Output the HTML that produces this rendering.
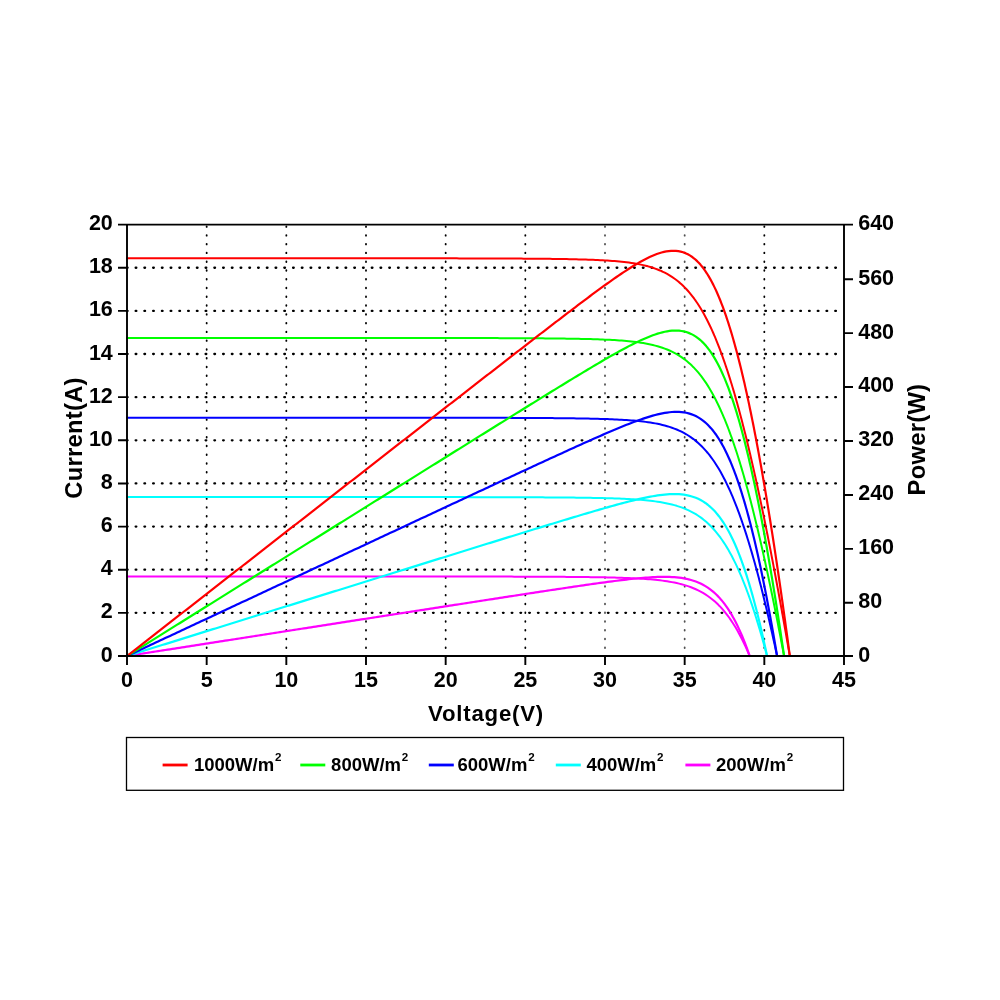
<!DOCTYPE html>
<html><head><meta charset="utf-8"><style>
html,body{margin:0;padding:0;background:#fff;}
body{width:1000px;height:1000px;overflow:hidden;}
svg{display:block;will-change:transform;}
text{font-family:"Liberation Sans",sans-serif;font-weight:bold;fill:#000;}
.gv{stroke-width:1.8;stroke-dasharray:0.6 8.176;stroke-linecap:round;}
.gh{stroke:#000;stroke-width:2.3;stroke-dasharray:0.7 8.045;stroke-linecap:round;}
.c path{fill:none;stroke-linejoin:round;stroke-linecap:round;}
</style></head><body>
<svg width="1000" height="1000" viewBox="0 0 1000 1000">
<rect width="1000" height="1000" fill="#fff"/>
<g><line x1="206.67" y1="656.9" x2="206.67" y2="224.6" class="gv" stroke="#000"/>
<line x1="286.33" y1="656.9" x2="286.33" y2="224.6" class="gv" stroke="#000"/>
<line x1="366" y1="656.9" x2="366" y2="224.6" class="gv" stroke="#000"/>
<line x1="445.67" y1="656.9" x2="445.67" y2="224.6" class="gv" stroke="#000"/>
<line x1="525.33" y1="656.9" x2="525.33" y2="224.6" class="gv" stroke="#000"/>
<line x1="605" y1="656.9" x2="605" y2="224.6" class="gv" stroke="#505050"/>
<line x1="684.67" y1="656.9" x2="684.67" y2="224.6" class="gv" stroke="#505050"/>
<line x1="764.33" y1="656.9" x2="764.33" y2="224.6" class="gv" stroke="#000"/>
<line x1="126.9" y1="612.86" x2="838" y2="612.86" class="gh"/>
<line x1="126.9" y1="569.72" x2="838" y2="569.72" class="gh"/>
<line x1="126.9" y1="526.58" x2="838" y2="526.58" class="gh"/>
<line x1="126.9" y1="483.44" x2="838" y2="483.44" class="gh"/>
<line x1="126.9" y1="440.3" x2="838" y2="440.3" class="gh"/>
<line x1="126.9" y1="397.16" x2="838" y2="397.16" class="gh"/>
<line x1="126.9" y1="354.02" x2="838" y2="354.02" class="gh"/>
<line x1="126.9" y1="310.88" x2="838" y2="310.88" class="gh"/>
<line x1="126.9" y1="267.74" x2="838" y2="267.74" class="gh"/></g>
<g class="c"><path d="M127 576.45 L129.39 576.45 L131.78 576.45 L134.17 576.45 L136.56 576.45 L138.95 576.45 L141.34 576.45 L143.73 576.45 L146.12 576.45 L148.51 576.45 L150.9 576.45 L153.29 576.45 L155.68 576.45 L158.07 576.45 L160.46 576.45 L162.85 576.45 L165.24 576.45 L167.63 576.45 L170.02 576.45 L172.41 576.45 L174.8 576.45 L177.19 576.45 L179.58 576.45 L181.97 576.45 L184.36 576.45 L186.75 576.45 L189.14 576.45 L191.53 576.45 L193.92 576.45 L196.31 576.45 L198.7 576.45 L201.09 576.45 L203.48 576.45 L205.87 576.45 L208.26 576.45 L210.65 576.45 L213.04 576.45 L215.43 576.45 L217.82 576.45 L220.21 576.45 L222.6 576.45 L224.99 576.45 L227.38 576.45 L229.77 576.45 L232.16 576.45 L234.55 576.45 L236.94 576.45 L239.33 576.45 L241.72 576.45 L244.11 576.45 L246.5 576.45 L248.89 576.45 L251.28 576.45 L253.67 576.45 L256.06 576.45 L258.45 576.45 L260.84 576.45 L263.23 576.45 L265.62 576.45 L268.01 576.45 L270.4 576.45 L272.79 576.45 L275.18 576.45 L277.57 576.45 L279.96 576.45 L282.35 576.45 L284.74 576.45 L287.13 576.45 L289.52 576.45 L291.91 576.45 L294.3 576.46 L296.69 576.46 L299.08 576.46 L301.47 576.46 L303.86 576.46 L306.25 576.46 L308.64 576.46 L311.03 576.46 L313.42 576.46 L315.81 576.46 L318.2 576.46 L320.59 576.46 L322.98 576.46 L325.37 576.46 L327.76 576.46 L330.15 576.46 L332.54 576.46 L334.93 576.46 L337.32 576.46 L339.71 576.46 L342.1 576.46 L344.49 576.46 L346.88 576.46 L349.27 576.46 L351.66 576.46 L354.05 576.46 L356.44 576.46 L358.83 576.46 L361.22 576.47 L363.61 576.47 L366 576.47 L368.39 576.47 L370.78 576.47 L373.17 576.47 L375.56 576.47 L377.95 576.47 L380.34 576.47 L382.73 576.47 L385.12 576.47 L387.51 576.47 L389.9 576.47 L392.29 576.48 L394.68 576.48 L397.07 576.48 L399.46 576.48 L401.85 576.48 L404.24 576.48 L406.63 576.48 L409.02 576.48 L411.41 576.48 L413.8 576.49 L416.19 576.49 L418.58 576.49 L420.97 576.49 L423.36 576.49 L425.75 576.49 L428.14 576.49 L430.53 576.5 L432.92 576.5 L435.31 576.5 L437.7 576.5 L440.09 576.5 L442.48 576.51 L444.87 576.51 L447.26 576.51 L449.65 576.51 L452.04 576.52 L454.43 576.52 L456.82 576.52 L459.21 576.52 L461.6 576.53 L463.99 576.53 L466.38 576.53 L468.77 576.54 L471.16 576.54 L473.55 576.54 L475.94 576.55 L478.33 576.55 L480.72 576.55 L483.11 576.56 L485.5 576.56 L487.89 576.57 L490.28 576.57 L492.67 576.57 L495.06 576.58 L497.45 576.58 L499.84 576.59 L502.23 576.6 L504.62 576.6 L507.01 576.61 L509.4 576.61 L511.79 576.62 L514.18 576.63 L516.57 576.63 L518.96 576.64 L521.35 576.65 L523.74 576.66 L526.13 576.67 L528.52 576.67 L530.91 576.68 L533.3 576.69 L535.69 576.7 L538.08 576.71 L540.47 576.72 L542.86 576.74 L545.25 576.75 L547.64 576.76 L550.03 576.77 L552.42 576.79 L554.81 576.8 L557.2 576.82 L559.59 576.83 L561.98 576.85 L564.37 576.87 L566.76 576.88 L569.15 576.9 L571.54 576.92 L573.93 576.94 L576.32 576.97 L578.71 576.99 L581.1 577.02 L583.49 577.04 L585.88 577.07 L588.27 577.1 L590.66 577.13 L593.05 577.17 L595.44 577.2 L597.83 577.24 L600.22 577.28 L602.61 577.33 L605 577.37 L607.39 577.42 L609.78 577.47 L612.17 577.53 L614.56 577.59 L616.95 577.66 L619.34 577.73 L621.73 577.8 L624.12 577.88 L626.51 577.97 L628.9 578.07 L631.29 578.17 L633.68 578.28 L636.07 578.4 L638.46 578.53 L640.85 578.67 L643.24 578.82 L645.63 578.98 L648.02 579.16 L650.41 579.35 L652.8 579.57 L655.19 579.8 L657.58 580.05 L659.97 580.32 L662.36 580.62 L664.75 580.94 L667.14 581.3 L669.53 581.69 L671.92 582.11 L674.31 582.57 L676.7 583.08 L679.09 583.63 L681.48 584.24 L683.87 584.9 L686.26 585.62 L688.65 586.41 L691.04 587.27 L693.43 588.22 L695.82 589.24 L698.21 590.37 L700.6 591.59 L702.99 592.93 L705.38 594.39 L707.77 595.97 L710.16 597.7 L711.75 598.93 L713.35 600.23 L714.94 601.61 L716.53 603.05 L718.13 604.58 L719.72 606.19 L721.31 607.89 L722.91 609.68 L724.5 611.56 L726.09 613.53 L727.69 615.61 L729.28 617.78 L730.87 620.06 L732.47 622.46 L734.06 624.96 L735.65 627.58 L737.25 630.32 L738.84 633.17 L740.43 636.16 L742.03 639.26 L743.62 642.5 L745.21 645.86 L746.81 649.36 L748.4 653 L749.2 654.86 L749.67 656" stroke="#ff00ff" stroke-width="2.0"/>
<path d="M127 656 L129.39 655.63 L131.78 655.25 L134.17 654.88 L136.56 654.51 L138.95 654.14 L141.34 653.76 L143.73 653.39 L146.12 653.02 L148.51 652.64 L150.9 652.27 L153.29 651.9 L155.68 651.53 L158.07 651.15 L160.46 650.78 L162.85 650.41 L165.24 650.03 L167.63 649.66 L170.02 649.29 L172.41 648.92 L174.8 648.54 L177.19 648.17 L179.58 647.8 L181.97 647.42 L184.36 647.05 L186.75 646.68 L189.14 646.3 L191.53 645.93 L193.92 645.56 L196.31 645.19 L198.7 644.81 L201.09 644.44 L203.48 644.07 L205.87 643.69 L208.26 643.32 L210.65 642.95 L213.04 642.58 L215.43 642.2 L217.82 641.83 L220.21 641.46 L222.6 641.08 L224.99 640.71 L227.38 640.34 L229.77 639.97 L232.16 639.59 L234.55 639.22 L236.94 638.85 L239.33 638.47 L241.72 638.1 L244.11 637.73 L246.5 637.36 L248.89 636.98 L251.28 636.61 L253.67 636.24 L256.06 635.86 L258.45 635.49 L260.84 635.12 L263.23 634.75 L265.62 634.37 L268.01 634 L270.4 633.63 L272.79 633.25 L275.18 632.88 L277.57 632.51 L279.96 632.14 L282.35 631.76 L284.74 631.39 L287.13 631.02 L289.52 630.64 L291.91 630.27 L294.3 629.9 L296.69 629.53 L299.08 629.15 L301.47 628.78 L303.86 628.41 L306.25 628.04 L308.64 627.66 L311.03 627.29 L313.42 626.92 L315.81 626.54 L318.2 626.17 L320.59 625.8 L322.98 625.43 L325.37 625.05 L327.76 624.68 L330.15 624.31 L332.54 623.94 L334.93 623.56 L337.32 623.19 L339.71 622.82 L342.1 622.44 L344.49 622.07 L346.88 621.7 L349.27 621.33 L351.66 620.95 L354.05 620.58 L356.44 620.21 L358.83 619.84 L361.22 619.46 L363.61 619.09 L366 618.72 L368.39 618.35 L370.78 617.97 L373.17 617.6 L375.56 617.23 L377.95 616.86 L380.34 616.48 L382.73 616.11 L385.12 615.74 L387.51 615.37 L389.9 614.99 L392.29 614.62 L394.68 614.25 L397.07 613.88 L399.46 613.51 L401.85 613.13 L404.24 612.76 L406.63 612.39 L409.02 612.02 L411.41 611.65 L413.8 611.27 L416.19 610.9 L418.58 610.53 L420.97 610.16 L423.36 609.79 L425.75 609.41 L428.14 609.04 L430.53 608.67 L432.92 608.3 L435.31 607.93 L437.7 607.56 L440.09 607.18 L442.48 606.81 L444.87 606.44 L447.26 606.07 L449.65 605.7 L452.04 605.33 L454.43 604.96 L456.82 604.59 L459.21 604.22 L461.6 603.85 L463.99 603.47 L466.38 603.1 L468.77 602.73 L471.16 602.36 L473.55 601.99 L475.94 601.62 L478.33 601.25 L480.72 600.88 L483.11 600.51 L485.5 600.14 L487.89 599.78 L490.28 599.41 L492.67 599.04 L495.06 598.67 L497.45 598.3 L499.84 597.93 L502.23 597.56 L504.62 597.2 L507.01 596.83 L509.4 596.46 L511.79 596.09 L514.18 595.73 L516.57 595.36 L518.96 594.99 L521.35 594.63 L523.74 594.26 L526.13 593.9 L528.52 593.53 L530.91 593.17 L533.3 592.8 L535.69 592.44 L538.08 592.07 L540.47 591.71 L542.86 591.35 L545.25 590.99 L547.64 590.63 L550.03 590.27 L552.42 589.91 L554.81 589.55 L557.2 589.19 L559.59 588.83 L561.98 588.47 L564.37 588.12 L566.76 587.76 L569.15 587.41 L571.54 587.06 L573.93 586.7 L576.32 586.35 L578.71 586 L581.1 585.66 L583.49 585.31 L585.88 584.96 L588.27 584.62 L590.66 584.28 L593.05 583.94 L595.44 583.61 L597.83 583.27 L600.22 582.94 L602.61 582.61 L605 582.29 L607.39 581.96 L609.78 581.65 L612.17 581.33 L614.56 581.02 L616.95 580.72 L619.34 580.42 L621.73 580.12 L624.12 579.84 L626.51 579.56 L628.9 579.28 L631.29 579.02 L633.68 578.76 L636.07 578.52 L638.46 578.28 L640.85 578.06 L643.24 577.85 L645.63 577.66 L648.02 577.48 L650.41 577.32 L652.8 577.18 L655.19 577.06 L657.58 576.96 L659.97 576.89 L662.36 576.85 L664.75 576.84 L667.14 576.86 L669.53 576.93 L671.92 577.03 L674.31 577.18 L676.7 577.38 L679.09 577.64 L681.48 577.96 L683.87 578.34 L686.26 578.8 L688.65 579.34 L691.04 579.97 L693.43 580.7 L695.82 581.53 L698.21 582.47 L700.6 583.54 L702.99 584.75 L705.38 586.11 L707.77 587.63 L710.16 589.32 L711.75 590.55 L713.35 591.87 L714.94 593.28 L716.53 594.78 L718.13 596.39 L719.72 598.1 L721.31 599.92 L722.91 601.86 L724.5 603.92 L726.09 606.1 L727.69 608.41 L729.28 610.85 L730.87 613.44 L732.47 616.17 L734.06 619.04 L735.65 622.07 L737.25 625.26 L738.84 628.61 L740.43 632.12 L742.03 635.81 L742.82 637.72 L743.62 639.67 L744.42 641.67 L745.21 643.71 L746.01 645.8 L746.81 647.93 L747.6 650.11 L748.4 652.34 L749.2 654.61 L749.67 656" stroke="#ff00ff" stroke-width="2.2"/>
<path d="M127 497.03 L129.39 497.03 L131.78 497.03 L134.17 497.03 L136.56 497.03 L138.95 497.03 L141.34 497.03 L143.73 497.03 L146.12 497.03 L148.51 497.03 L150.9 497.03 L153.29 497.03 L155.68 497.03 L158.07 497.03 L160.46 497.03 L162.85 497.03 L165.24 497.03 L167.63 497.03 L170.02 497.03 L172.41 497.03 L174.8 497.03 L177.19 497.03 L179.58 497.03 L181.97 497.03 L184.36 497.03 L186.75 497.03 L189.14 497.03 L191.53 497.03 L193.92 497.03 L196.31 497.03 L198.7 497.03 L201.09 497.03 L203.48 497.03 L205.87 497.03 L208.26 497.03 L210.65 497.03 L213.04 497.03 L215.43 497.03 L217.82 497.03 L220.21 497.03 L222.6 497.03 L224.99 497.03 L227.38 497.03 L229.77 497.03 L232.16 497.03 L234.55 497.03 L236.94 497.03 L239.33 497.03 L241.72 497.03 L244.11 497.03 L246.5 497.03 L248.89 497.03 L251.28 497.03 L253.67 497.03 L256.06 497.03 L258.45 497.03 L260.84 497.03 L263.23 497.03 L265.62 497.03 L268.01 497.03 L270.4 497.03 L272.79 497.03 L275.18 497.03 L277.57 497.03 L279.96 497.03 L282.35 497.03 L284.74 497.03 L287.13 497.03 L289.52 497.03 L291.91 497.03 L294.3 497.04 L296.69 497.04 L299.08 497.04 L301.47 497.04 L303.86 497.04 L306.25 497.04 L308.64 497.04 L311.03 497.04 L313.42 497.04 L315.81 497.04 L318.2 497.04 L320.59 497.04 L322.98 497.04 L325.37 497.04 L327.76 497.04 L330.15 497.04 L332.54 497.04 L334.93 497.04 L337.32 497.04 L339.71 497.04 L342.1 497.04 L344.49 497.04 L346.88 497.04 L349.27 497.04 L351.66 497.04 L354.05 497.04 L356.44 497.05 L358.83 497.05 L361.22 497.05 L363.61 497.05 L366 497.05 L368.39 497.05 L370.78 497.05 L373.17 497.05 L375.56 497.05 L377.95 497.05 L380.34 497.05 L382.73 497.05 L385.12 497.06 L387.51 497.06 L389.9 497.06 L392.29 497.06 L394.68 497.06 L397.07 497.06 L399.46 497.06 L401.85 497.06 L404.24 497.06 L406.63 497.07 L409.02 497.07 L411.41 497.07 L413.8 497.07 L416.19 497.07 L418.58 497.07 L420.97 497.08 L423.36 497.08 L425.75 497.08 L428.14 497.08 L430.53 497.08 L432.92 497.08 L435.31 497.09 L437.7 497.09 L440.09 497.09 L442.48 497.09 L444.87 497.1 L447.26 497.1 L449.65 497.1 L452.04 497.1 L454.43 497.11 L456.82 497.11 L459.21 497.11 L461.6 497.12 L463.99 497.12 L466.38 497.12 L468.77 497.13 L471.16 497.13 L473.55 497.14 L475.94 497.14 L478.33 497.14 L480.72 497.15 L483.11 497.15 L485.5 497.16 L487.89 497.16 L490.28 497.17 L492.67 497.17 L495.06 497.18 L497.45 497.19 L499.84 497.19 L502.23 497.2 L504.62 497.2 L507.01 497.21 L509.4 497.22 L511.79 497.23 L514.18 497.23 L516.57 497.24 L518.96 497.25 L521.35 497.26 L523.74 497.27 L526.13 497.28 L528.52 497.29 L530.91 497.3 L533.3 497.31 L535.69 497.32 L538.08 497.34 L540.47 497.35 L542.86 497.36 L545.25 497.38 L547.64 497.39 L550.03 497.41 L552.42 497.42 L554.81 497.44 L557.2 497.46 L559.59 497.48 L561.98 497.5 L564.37 497.52 L566.76 497.54 L569.15 497.56 L571.54 497.59 L573.93 497.61 L576.32 497.64 L578.71 497.67 L581.1 497.7 L583.49 497.74 L585.88 497.77 L588.27 497.81 L590.66 497.85 L593.05 497.89 L595.44 497.93 L597.83 497.98 L600.22 498.03 L602.61 498.09 L605 498.15 L607.39 498.21 L609.78 498.28 L612.17 498.35 L614.56 498.43 L616.95 498.52 L619.34 498.61 L621.73 498.7 L624.12 498.81 L626.51 498.93 L628.9 499.05 L631.29 499.18 L633.68 499.33 L636.07 499.49 L638.46 499.66 L640.85 499.84 L643.24 500.05 L645.63 500.27 L648.02 500.51 L650.41 500.77 L652.8 501.05 L655.19 501.37 L657.58 501.7 L659.97 502.07 L662.36 502.48 L664.75 502.92 L667.14 503.4 L669.53 503.93 L671.92 504.51 L674.31 505.14 L676.7 505.83 L679.09 506.58 L681.48 507.41 L683.87 508.31 L686.26 509.29 L688.65 510.36 L691.04 511.53 L693.43 512.81 L695.82 514.2 L698.21 515.72 L700.6 517.37 L702.99 519.16 L704.58 520.44 L706.18 521.79 L707.77 523.22 L709.36 524.72 L710.96 526.31 L712.55 527.98 L714.14 529.74 L715.74 531.59 L717.33 533.54 L718.92 535.58 L720.52 537.72 L722.11 539.97 L723.7 542.33 L725.3 544.8 L726.89 547.38 L728.48 550.08 L730.08 552.91 L731.67 555.85 L733.26 558.92 L734.86 562.11 L736.45 565.44 L738.04 568.9 L739.64 572.49 L740.43 574.33 L741.23 576.21 L742.03 578.13 L742.82 580.08 L743.62 582.06 L744.42 584.08 L745.21 586.13 L746.01 588.22 L746.81 590.34 L747.6 592.5 L748.4 594.69 L749.2 596.92 L749.99 599.18 L750.79 601.48 L751.59 603.82 L752.38 606.18 L753.18 608.59 L753.98 611.03 L754.77 613.5 L755.57 616.01 L756.37 618.56 L757.16 621.14 L757.96 623.75 L758.76 626.4 L759.55 629.09 L760.35 631.81 L761.15 634.56 L761.94 637.35 L762.74 640.17 L763.54 643.03 L764.33 645.92 L765.13 648.84 L765.93 651.8 L766.72 654.79 L767.04 656" stroke="#00ffff" stroke-width="2.0"/>
<path d="M127 656 L129.39 655.25 L131.78 654.51 L134.17 653.76 L136.56 653.02 L138.95 652.27 L141.34 651.53 L143.73 650.78 L146.12 650.04 L148.51 649.29 L150.9 648.55 L153.29 647.8 L155.68 647.06 L158.07 646.31 L160.46 645.57 L162.85 644.82 L165.24 644.08 L167.63 643.33 L170.02 642.59 L172.41 641.84 L174.8 641.1 L177.19 640.35 L179.58 639.61 L181.97 638.86 L184.36 638.12 L186.75 637.37 L189.14 636.63 L191.53 635.88 L193.92 635.14 L196.31 634.39 L198.7 633.64 L201.09 632.9 L203.48 632.15 L205.87 631.41 L208.26 630.66 L210.65 629.92 L213.04 629.17 L215.43 628.43 L217.82 627.68 L220.21 626.94 L222.6 626.19 L224.99 625.45 L227.38 624.7 L229.77 623.96 L232.16 623.21 L234.55 622.47 L236.94 621.72 L239.33 620.98 L241.72 620.23 L244.11 619.49 L246.5 618.74 L248.89 618 L251.28 617.25 L253.67 616.51 L256.06 615.76 L258.45 615.02 L260.84 614.27 L263.23 613.53 L265.62 612.78 L268.01 612.04 L270.4 611.29 L272.79 610.55 L275.18 609.8 L277.57 609.06 L279.96 608.31 L282.35 607.57 L284.74 606.82 L287.13 606.07 L289.52 605.33 L291.91 604.58 L294.3 603.84 L296.69 603.09 L299.08 602.35 L301.47 601.6 L303.86 600.86 L306.25 600.11 L308.64 599.37 L311.03 598.62 L313.42 597.88 L315.81 597.13 L318.2 596.39 L320.59 595.64 L322.98 594.9 L325.37 594.15 L327.76 593.41 L330.15 592.66 L332.54 591.92 L334.93 591.17 L337.32 590.43 L339.71 589.68 L342.1 588.94 L344.49 588.19 L346.88 587.45 L349.27 586.71 L351.66 585.96 L354.05 585.22 L356.44 584.47 L358.83 583.73 L361.22 582.98 L363.61 582.24 L366 581.49 L368.39 580.75 L370.78 580 L373.17 579.26 L375.56 578.51 L377.95 577.77 L380.34 577.02 L382.73 576.28 L385.12 575.53 L387.51 574.79 L389.9 574.05 L392.29 573.3 L394.68 572.56 L397.07 571.81 L399.46 571.07 L401.85 570.32 L404.24 569.58 L406.63 568.83 L409.02 568.09 L411.41 567.35 L413.8 566.6 L416.19 565.86 L418.58 565.11 L420.97 564.37 L423.36 563.63 L425.75 562.88 L428.14 562.14 L430.53 561.39 L432.92 560.65 L435.31 559.91 L437.7 559.16 L440.09 558.42 L442.48 557.68 L444.87 556.93 L447.26 556.19 L449.65 555.45 L452.04 554.7 L454.43 553.96 L456.82 553.22 L459.21 552.48 L461.6 551.73 L463.99 550.99 L466.38 550.25 L468.77 549.51 L471.16 548.76 L473.55 548.02 L475.94 547.28 L478.33 546.54 L480.72 545.8 L483.11 545.06 L485.5 544.31 L487.89 543.57 L490.28 542.83 L492.67 542.09 L495.06 541.35 L497.45 540.61 L499.84 539.87 L502.23 539.13 L504.62 538.39 L507.01 537.65 L509.4 536.91 L511.79 536.18 L514.18 535.44 L516.57 534.7 L518.96 533.96 L521.35 533.22 L523.74 532.49 L526.13 531.75 L528.52 531.02 L530.91 530.28 L533.3 529.55 L535.69 528.81 L538.08 528.08 L540.47 527.34 L542.86 526.61 L545.25 525.88 L547.64 525.15 L550.03 524.42 L552.42 523.69 L554.81 522.96 L557.2 522.23 L559.59 521.5 L561.98 520.78 L564.37 520.05 L566.76 519.33 L569.15 518.61 L571.54 517.88 L573.93 517.17 L576.32 516.45 L578.71 515.73 L581.1 515.02 L583.49 514.3 L585.88 513.59 L588.27 512.89 L590.66 512.18 L593.05 511.48 L595.44 510.78 L597.83 510.08 L600.22 509.39 L602.61 508.7 L605 508.01 L607.39 507.33 L609.78 506.66 L612.17 505.99 L614.56 505.32 L616.95 504.67 L619.34 504.02 L621.73 503.37 L624.12 502.74 L626.51 502.12 L628.9 501.5 L631.29 500.9 L633.68 500.31 L636.07 499.73 L638.46 499.17 L640.85 498.62 L643.24 498.1 L645.63 497.59 L648.02 497.11 L650.41 496.65 L652.8 496.21 L655.19 495.81 L657.58 495.44 L659.97 495.1 L662.36 494.8 L664.75 494.55 L667.14 494.34 L669.53 494.19 L671.92 494.09 L674.31 494.06 L676.7 494.1 L679.09 494.21 L681.48 494.41 L683.87 494.69 L686.26 495.08 L688.65 495.57 L691.04 496.19 L693.43 496.93 L695.82 497.81 L698.21 498.84 L700.6 500.04 L702.99 501.42 L705.38 502.98 L707.77 504.75 L709.36 506.06 L710.96 507.46 L712.55 508.98 L714.14 510.6 L715.74 512.35 L717.33 514.21 L718.92 516.2 L720.52 518.32 L722.11 520.58 L723.7 522.97 L725.3 525.51 L726.89 528.21 L728.48 531.05 L730.08 534.06 L731.67 537.23 L733.26 540.56 L734.86 544.07 L736.45 547.75 L737.25 549.66 L738.04 551.61 L738.84 553.61 L739.64 555.66 L740.43 557.75 L741.23 559.88 L742.03 562.07 L742.82 564.3 L743.62 566.58 L744.42 568.91 L745.21 571.29 L746.01 573.71 L746.81 576.19 L747.6 578.71 L748.4 581.28 L749.2 583.9 L749.99 586.58 L750.79 589.3 L751.59 592.07 L752.38 594.9 L753.18 597.77 L753.98 600.7 L754.77 603.68 L755.57 606.7 L756.37 609.78 L757.16 612.91 L757.96 616.09 L758.76 619.33 L759.55 622.61 L760.35 625.95 L761.15 629.33 L761.94 632.77 L762.74 636.26 L763.54 639.8 L764.33 643.4 L765.13 647.04 L765.93 650.74 L766.72 654.49 L767.04 656" stroke="#00ffff" stroke-width="2.2"/>
<path d="M127 417.65 L129.39 417.65 L131.78 417.65 L134.17 417.65 L136.56 417.65 L138.95 417.65 L141.34 417.65 L143.73 417.65 L146.12 417.65 L148.51 417.65 L150.9 417.65 L153.29 417.65 L155.68 417.65 L158.07 417.65 L160.46 417.65 L162.85 417.65 L165.24 417.65 L167.63 417.65 L170.02 417.65 L172.41 417.65 L174.8 417.65 L177.19 417.65 L179.58 417.65 L181.97 417.65 L184.36 417.65 L186.75 417.65 L189.14 417.65 L191.53 417.65 L193.92 417.65 L196.31 417.65 L198.7 417.65 L201.09 417.65 L203.48 417.65 L205.87 417.65 L208.26 417.65 L210.65 417.65 L213.04 417.65 L215.43 417.65 L217.82 417.65 L220.21 417.65 L222.6 417.65 L224.99 417.65 L227.38 417.65 L229.77 417.65 L232.16 417.65 L234.55 417.65 L236.94 417.65 L239.33 417.65 L241.72 417.65 L244.11 417.65 L246.5 417.65 L248.89 417.65 L251.28 417.65 L253.67 417.66 L256.06 417.66 L258.45 417.66 L260.84 417.66 L263.23 417.66 L265.62 417.66 L268.01 417.66 L270.4 417.66 L272.79 417.66 L275.18 417.66 L277.57 417.66 L279.96 417.66 L282.35 417.66 L284.74 417.66 L287.13 417.66 L289.52 417.66 L291.91 417.66 L294.3 417.66 L296.69 417.66 L299.08 417.66 L301.47 417.66 L303.86 417.66 L306.25 417.66 L308.64 417.66 L311.03 417.66 L313.42 417.66 L315.81 417.66 L318.2 417.66 L320.59 417.66 L322.98 417.66 L325.37 417.66 L327.76 417.66 L330.15 417.66 L332.54 417.66 L334.93 417.67 L337.32 417.67 L339.71 417.67 L342.1 417.67 L344.49 417.67 L346.88 417.67 L349.27 417.67 L351.66 417.67 L354.05 417.67 L356.44 417.67 L358.83 417.67 L361.22 417.67 L363.61 417.67 L366 417.67 L368.39 417.67 L370.78 417.68 L373.17 417.68 L375.56 417.68 L377.95 417.68 L380.34 417.68 L382.73 417.68 L385.12 417.68 L387.51 417.68 L389.9 417.68 L392.29 417.69 L394.68 417.69 L397.07 417.69 L399.46 417.69 L401.85 417.69 L404.24 417.69 L406.63 417.69 L409.02 417.7 L411.41 417.7 L413.8 417.7 L416.19 417.7 L418.58 417.7 L420.97 417.7 L423.36 417.71 L425.75 417.71 L428.14 417.71 L430.53 417.71 L432.92 417.72 L435.31 417.72 L437.7 417.72 L440.09 417.72 L442.48 417.73 L444.87 417.73 L447.26 417.73 L449.65 417.74 L452.04 417.74 L454.43 417.74 L456.82 417.75 L459.21 417.75 L461.6 417.75 L463.99 417.76 L466.38 417.76 L468.77 417.77 L471.16 417.77 L473.55 417.77 L475.94 417.78 L478.33 417.78 L480.72 417.79 L483.11 417.79 L485.5 417.8 L487.89 417.81 L490.28 417.81 L492.67 417.82 L495.06 417.83 L497.45 417.83 L499.84 417.84 L502.23 417.85 L504.62 417.85 L507.01 417.86 L509.4 417.87 L511.79 417.88 L514.18 417.89 L516.57 417.9 L518.96 417.91 L521.35 417.92 L523.74 417.93 L526.13 417.94 L528.52 417.95 L530.91 417.97 L533.3 417.98 L535.69 417.99 L538.08 418.01 L540.47 418.02 L542.86 418.04 L545.25 418.06 L547.64 418.08 L550.03 418.09 L552.42 418.11 L554.81 418.13 L557.2 418.16 L559.59 418.18 L561.98 418.2 L564.37 418.23 L566.76 418.26 L569.15 418.29 L571.54 418.32 L573.93 418.35 L576.32 418.38 L578.71 418.42 L581.1 418.46 L583.49 418.5 L585.88 418.54 L588.27 418.59 L590.66 418.64 L593.05 418.7 L595.44 418.75 L597.83 418.81 L600.22 418.88 L602.61 418.95 L605 419.03 L607.39 419.11 L609.78 419.2 L612.17 419.29 L614.56 419.4 L616.95 419.51 L619.34 419.63 L621.73 419.76 L624.12 419.9 L626.51 420.05 L628.9 420.22 L631.29 420.4 L633.68 420.6 L636.07 420.81 L638.46 421.04 L640.85 421.3 L643.24 421.57 L645.63 421.87 L648.02 422.2 L650.41 422.56 L652.8 422.95 L655.19 423.38 L657.58 423.84 L659.97 424.35 L662.36 424.91 L664.75 425.52 L667.14 426.19 L669.53 426.91 L671.92 427.71 L674.31 428.58 L676.7 429.53 L679.09 430.56 L681.48 431.7 L683.87 432.93 L686.26 434.27 L688.65 435.74 L691.04 437.34 L693.43 439.07 L695.02 440.31 L696.62 441.62 L698.21 443 L699.8 444.46 L701.4 445.99 L702.99 447.61 L704.58 449.32 L706.18 451.11 L707.77 453 L709.36 454.99 L710.96 457.07 L712.55 459.26 L714.14 461.55 L715.74 463.95 L717.33 466.47 L718.92 469.1 L720.52 471.84 L722.11 474.71 L723.7 477.71 L725.3 480.83 L726.89 484.07 L728.48 487.45 L730.08 490.96 L731.67 494.61 L732.47 496.48 L733.26 498.39 L734.06 500.33 L734.86 502.31 L735.65 504.32 L736.45 506.36 L737.25 508.44 L738.04 510.56 L738.84 512.71 L739.64 514.9 L740.43 517.12 L741.23 519.37 L742.03 521.66 L742.82 523.99 L743.62 526.35 L744.42 528.75 L745.21 531.18 L746.01 533.65 L746.81 536.15 L747.6 538.69 L748.4 541.26 L749.2 543.87 L749.99 546.51 L750.79 549.19 L751.59 551.9 L752.38 554.65 L753.18 557.43 L753.98 560.25 L754.77 563.1 L755.57 565.98 L756.37 568.9 L757.16 571.85 L757.96 574.83 L758.76 577.85 L759.55 580.9 L760.35 583.99 L761.15 587.11 L761.94 590.26 L762.74 593.44 L763.54 596.65 L764.33 599.9 L765.13 603.18 L765.93 606.49 L766.72 609.83 L767.52 613.2 L768.32 616.61 L769.11 620.04 L769.91 623.5 L770.71 627 L771.5 630.52 L772.3 634.07 L773.1 637.66 L773.89 641.27 L774.69 644.91 L775.49 648.58 L776.28 652.27 L777.08 656" stroke="#0000ff" stroke-width="2.0"/>
<path d="M127 656 L129.39 654.88 L131.78 653.77 L134.17 652.65 L136.56 651.53 L138.95 650.41 L141.34 649.3 L143.73 648.18 L146.12 647.06 L148.51 645.94 L150.9 644.83 L153.29 643.71 L155.68 642.59 L158.07 641.48 L160.46 640.36 L162.85 639.24 L165.24 638.12 L167.63 637.01 L170.02 635.89 L172.41 634.77 L174.8 633.65 L177.19 632.54 L179.58 631.42 L181.97 630.3 L184.36 629.19 L186.75 628.07 L189.14 626.95 L191.53 625.83 L193.92 624.72 L196.31 623.6 L198.7 622.48 L201.09 621.37 L203.48 620.25 L205.87 619.13 L208.26 618.01 L210.65 616.9 L213.04 615.78 L215.43 614.66 L217.82 613.54 L220.21 612.43 L222.6 611.31 L224.99 610.19 L227.38 609.08 L229.77 607.96 L232.16 606.84 L234.55 605.72 L236.94 604.61 L239.33 603.49 L241.72 602.37 L244.11 601.26 L246.5 600.14 L248.89 599.02 L251.28 597.9 L253.67 596.79 L256.06 595.67 L258.45 594.55 L260.84 593.43 L263.23 592.32 L265.62 591.2 L268.01 590.08 L270.4 588.97 L272.79 587.85 L275.18 586.73 L277.57 585.61 L279.96 584.5 L282.35 583.38 L284.74 582.26 L287.13 581.15 L289.52 580.03 L291.91 578.91 L294.3 577.79 L296.69 576.68 L299.08 575.56 L301.47 574.44 L303.86 573.33 L306.25 572.21 L308.64 571.09 L311.03 569.97 L313.42 568.86 L315.81 567.74 L318.2 566.62 L320.59 565.51 L322.98 564.39 L325.37 563.27 L327.76 562.16 L330.15 561.04 L332.54 559.92 L334.93 558.8 L337.32 557.69 L339.71 556.57 L342.1 555.45 L344.49 554.34 L346.88 553.22 L349.27 552.1 L351.66 550.99 L354.05 549.87 L356.44 548.75 L358.83 547.63 L361.22 546.52 L363.61 545.4 L366 544.28 L368.39 543.17 L370.78 542.05 L373.17 540.93 L375.56 539.82 L377.95 538.7 L380.34 537.58 L382.73 536.47 L385.12 535.35 L387.51 534.23 L389.9 533.12 L392.29 532 L394.68 530.89 L397.07 529.77 L399.46 528.65 L401.85 527.54 L404.24 526.42 L406.63 525.3 L409.02 524.19 L411.41 523.07 L413.8 521.96 L416.19 520.84 L418.58 519.72 L420.97 518.61 L423.36 517.49 L425.75 516.38 L428.14 515.26 L430.53 514.15 L432.92 513.03 L435.31 511.91 L437.7 510.8 L440.09 509.68 L442.48 508.57 L444.87 507.45 L447.26 506.34 L449.65 505.22 L452.04 504.11 L454.43 502.99 L456.82 501.88 L459.21 500.76 L461.6 499.65 L463.99 498.54 L466.38 497.42 L468.77 496.31 L471.16 495.19 L473.55 494.08 L475.94 492.97 L478.33 491.85 L480.72 490.74 L483.11 489.63 L485.5 488.52 L487.89 487.4 L490.28 486.29 L492.67 485.18 L495.06 484.07 L497.45 482.96 L499.84 481.85 L502.23 480.73 L504.62 479.62 L507.01 478.51 L509.4 477.4 L511.79 476.29 L514.18 475.19 L516.57 474.08 L518.96 472.97 L521.35 471.86 L523.74 470.75 L526.13 469.65 L528.52 468.54 L530.91 467.43 L533.3 466.33 L535.69 465.22 L538.08 464.12 L540.47 463.02 L542.86 461.91 L545.25 460.81 L547.64 459.71 L550.03 458.61 L552.42 457.51 L554.81 456.42 L557.2 455.32 L559.59 454.22 L561.98 453.13 L564.37 452.04 L566.76 450.95 L569.15 449.86 L571.54 448.77 L573.93 447.68 L576.32 446.6 L578.71 445.52 L581.1 444.44 L583.49 443.36 L585.88 442.29 L588.27 441.22 L590.66 440.15 L593.05 439.09 L595.44 438.03 L597.83 436.97 L600.22 435.92 L602.61 434.88 L605 433.84 L607.39 432.81 L609.78 431.78 L612.17 430.76 L614.56 429.75 L616.95 428.75 L619.34 427.75 L621.73 426.77 L624.12 425.8 L626.51 424.85 L628.9 423.9 L631.29 422.98 L633.68 422.07 L636.07 421.18 L638.46 420.31 L640.85 419.46 L643.24 418.64 L645.63 417.85 L648.02 417.09 L650.41 416.36 L652.8 415.67 L655.19 415.02 L657.58 414.41 L659.97 413.86 L662.36 413.36 L664.75 412.91 L667.14 412.54 L669.53 412.24 L671.92 412.01 L674.31 411.88 L676.7 411.83 L679.09 411.89 L681.48 412.07 L683.87 412.36 L686.26 412.79 L688.65 413.37 L691.04 414.1 L693.43 415 L695.82 416.09 L698.21 417.37 L700.6 418.87 L702.99 420.59 L704.58 421.87 L706.18 423.26 L707.77 424.77 L709.36 426.4 L710.96 428.16 L712.55 430.05 L714.14 432.08 L715.74 434.24 L717.33 436.56 L718.92 439.02 L720.52 441.63 L722.11 444.4 L723.7 447.34 L725.3 450.44 L726.89 453.72 L728.48 457.17 L730.08 460.79 L730.87 462.67 L731.67 464.6 L732.47 466.57 L733.26 468.59 L734.06 470.66 L734.86 472.77 L735.65 474.93 L736.45 477.14 L737.25 479.39 L738.04 481.7 L738.84 484.05 L739.64 486.45 L740.43 488.91 L741.23 491.41 L742.03 493.96 L742.82 496.56 L743.62 499.21 L744.42 501.91 L745.21 504.66 L746.01 507.46 L746.81 510.31 L747.6 513.21 L748.4 516.16 L749.2 519.17 L749.99 522.22 L750.79 525.32 L751.59 528.48 L752.38 531.69 L753.18 534.94 L753.98 538.25 L754.77 541.61 L755.57 545.02 L756.37 548.48 L757.16 551.99 L757.96 555.56 L758.76 559.17 L759.55 562.83 L760.35 566.55 L761.15 570.31 L761.94 574.13 L762.74 577.99 L763.54 581.91 L764.33 585.88 L765.13 589.89 L765.93 593.96 L766.72 598.07 L767.52 602.24 L768.32 606.45 L769.11 610.71 L769.91 615.02 L770.71 619.38 L771.5 623.79 L772.3 628.25 L773.1 632.76 L773.89 637.31 L774.69 641.91 L775.49 646.56 L776.28 651.26 L777.08 656" stroke="#0000ff" stroke-width="2.2"/>
<path d="M127 337.91 L129.39 337.91 L131.78 337.91 L134.17 337.91 L136.56 337.91 L138.95 337.91 L141.34 337.91 L143.73 337.91 L146.12 337.91 L148.51 337.91 L150.9 337.91 L153.29 337.91 L155.68 337.91 L158.07 337.91 L160.46 337.91 L162.85 337.91 L165.24 337.91 L167.63 337.91 L170.02 337.91 L172.41 337.91 L174.8 337.91 L177.19 337.91 L179.58 337.91 L181.97 337.91 L184.36 337.91 L186.75 337.91 L189.14 337.91 L191.53 337.91 L193.92 337.91 L196.31 337.91 L198.7 337.91 L201.09 337.91 L203.48 337.91 L205.87 337.91 L208.26 337.91 L210.65 337.91 L213.04 337.91 L215.43 337.91 L217.82 337.91 L220.21 337.91 L222.6 337.91 L224.99 337.91 L227.38 337.91 L229.77 337.91 L232.16 337.91 L234.55 337.91 L236.94 337.91 L239.33 337.91 L241.72 337.91 L244.11 337.91 L246.5 337.91 L248.89 337.91 L251.28 337.91 L253.67 337.91 L256.06 337.91 L258.45 337.91 L260.84 337.91 L263.23 337.91 L265.62 337.91 L268.01 337.91 L270.4 337.91 L272.79 337.91 L275.18 337.91 L277.57 337.91 L279.96 337.91 L282.35 337.91 L284.74 337.91 L287.13 337.91 L289.52 337.91 L291.91 337.91 L294.3 337.92 L296.69 337.92 L299.08 337.92 L301.47 337.92 L303.86 337.92 L306.25 337.92 L308.64 337.92 L311.03 337.92 L313.42 337.92 L315.81 337.92 L318.2 337.92 L320.59 337.92 L322.98 337.92 L325.37 337.92 L327.76 337.92 L330.15 337.92 L332.54 337.92 L334.93 337.92 L337.32 337.92 L339.71 337.92 L342.1 337.92 L344.49 337.93 L346.88 337.93 L349.27 337.93 L351.66 337.93 L354.05 337.93 L356.44 337.93 L358.83 337.93 L361.22 337.93 L363.61 337.93 L366 337.93 L368.39 337.93 L370.78 337.93 L373.17 337.94 L375.56 337.94 L377.95 337.94 L380.34 337.94 L382.73 337.94 L385.12 337.94 L387.51 337.94 L389.9 337.94 L392.29 337.95 L394.68 337.95 L397.07 337.95 L399.46 337.95 L401.85 337.95 L404.24 337.95 L406.63 337.96 L409.02 337.96 L411.41 337.96 L413.8 337.96 L416.19 337.96 L418.58 337.97 L420.97 337.97 L423.36 337.97 L425.75 337.97 L428.14 337.98 L430.53 337.98 L432.92 337.98 L435.31 337.98 L437.7 337.99 L440.09 337.99 L442.48 337.99 L444.87 338 L447.26 338 L449.65 338 L452.04 338.01 L454.43 338.01 L456.82 338.02 L459.21 338.02 L461.6 338.02 L463.99 338.03 L466.38 338.03 L468.77 338.04 L471.16 338.04 L473.55 338.05 L475.94 338.06 L478.33 338.06 L480.72 338.07 L483.11 338.07 L485.5 338.08 L487.89 338.09 L490.28 338.09 L492.67 338.1 L495.06 338.11 L497.45 338.12 L499.84 338.13 L502.23 338.13 L504.62 338.14 L507.01 338.15 L509.4 338.16 L511.79 338.17 L514.18 338.18 L516.57 338.2 L518.96 338.21 L521.35 338.22 L523.74 338.23 L526.13 338.25 L528.52 338.26 L530.91 338.28 L533.3 338.29 L535.69 338.31 L538.08 338.33 L540.47 338.35 L542.86 338.37 L545.25 338.39 L547.64 338.41 L550.03 338.43 L552.42 338.45 L554.81 338.48 L557.2 338.51 L559.59 338.53 L561.98 338.56 L564.37 338.6 L566.76 338.63 L569.15 338.67 L571.54 338.7 L573.93 338.75 L576.32 338.79 L578.71 338.84 L581.1 338.88 L583.49 338.94 L585.88 338.99 L588.27 339.05 L590.66 339.12 L593.05 339.19 L595.44 339.26 L597.83 339.34 L600.22 339.43 L602.61 339.53 L605 339.63 L607.39 339.74 L609.78 339.85 L612.17 339.98 L614.56 340.12 L616.95 340.27 L619.34 340.43 L621.73 340.61 L624.12 340.8 L626.51 341.01 L628.9 341.23 L631.29 341.48 L633.68 341.75 L636.07 342.04 L638.46 342.37 L640.85 342.71 L643.24 343.1 L645.63 343.51 L648.02 343.97 L650.41 344.47 L652.8 345.01 L655.19 345.6 L657.58 346.25 L659.97 346.96 L662.36 347.74 L664.75 348.59 L667.14 349.51 L669.53 350.52 L671.92 351.63 L674.31 352.83 L676.7 354.14 L679.09 355.58 L681.48 357.13 L683.87 358.83 L685.46 360.04 L687.06 361.32 L688.65 362.67 L690.24 364.09 L691.84 365.59 L693.43 367.18 L695.02 368.85 L696.62 370.6 L698.21 372.45 L699.8 374.39 L701.4 376.43 L702.99 378.58 L704.58 380.82 L706.18 383.18 L707.77 385.64 L709.36 388.22 L710.96 390.92 L712.55 393.74 L714.14 396.68 L715.74 399.74 L717.33 402.94 L718.92 406.26 L720.52 409.71 L722.11 413.3 L722.91 415.15 L723.7 417.02 L724.5 418.94 L725.3 420.88 L726.09 422.86 L726.89 424.88 L727.69 426.93 L728.48 429.02 L729.28 431.14 L730.08 433.29 L730.87 435.48 L731.67 437.71 L732.47 439.97 L733.26 442.27 L734.06 444.6 L734.86 446.96 L735.65 449.37 L736.45 451.8 L737.25 454.28 L738.04 456.78 L738.84 459.33 L739.64 461.9 L740.43 464.52 L741.23 467.16 L742.03 469.85 L742.82 472.56 L743.62 475.32 L744.42 478.1 L745.21 480.92 L746.01 483.78 L746.81 486.67 L747.6 489.59 L748.4 492.55 L749.2 495.54 L749.99 498.56 L750.79 501.61 L751.59 504.7 L752.38 507.83 L753.18 510.98 L753.98 514.17 L754.77 517.39 L755.57 520.64 L756.37 523.92 L757.16 527.24 L757.96 530.58 L758.76 533.96 L759.55 537.37 L760.35 540.8 L761.15 544.27 L761.94 547.77 L762.74 551.3 L763.54 554.86 L764.33 558.44 L765.13 562.06 L765.93 565.7 L766.72 569.38 L767.52 573.08 L768.32 576.81 L769.11 580.56 L769.91 584.35 L770.71 588.16 L771.5 592 L772.3 595.86 L773.1 599.75 L773.89 603.67 L774.69 607.61 L775.49 611.58 L776.28 615.58 L777.08 619.59 L777.88 623.64 L778.67 627.71 L779.47 631.8 L780.27 635.92 L781.06 640.06 L781.86 644.22 L782.66 648.41 L783.45 652.62 L784.09 656" stroke="#00ff00" stroke-width="2.0"/>
<path d="M127 656 L129.39 654.51 L131.78 653.02 L134.17 651.53 L136.56 650.04 L138.95 648.54 L141.34 647.05 L143.73 645.56 L146.12 644.07 L148.51 642.58 L150.9 641.09 L153.29 639.6 L155.68 638.11 L158.07 636.62 L160.46 635.13 L162.85 633.63 L165.24 632.14 L167.63 630.65 L170.02 629.16 L172.41 627.67 L174.8 626.18 L177.19 624.69 L179.58 623.2 L181.97 621.71 L184.36 620.21 L186.75 618.72 L189.14 617.23 L191.53 615.74 L193.92 614.25 L196.31 612.76 L198.7 611.27 L201.09 609.78 L203.48 608.29 L205.87 606.8 L208.26 605.3 L210.65 603.81 L213.04 602.32 L215.43 600.83 L217.82 599.34 L220.21 597.85 L222.6 596.36 L224.99 594.87 L227.38 593.38 L229.77 591.88 L232.16 590.39 L234.55 588.9 L236.94 587.41 L239.33 585.92 L241.72 584.43 L244.11 582.94 L246.5 581.45 L248.89 579.96 L251.28 578.47 L253.67 576.97 L256.06 575.48 L258.45 573.99 L260.84 572.5 L263.23 571.01 L265.62 569.52 L268.01 568.03 L270.4 566.54 L272.79 565.05 L275.18 563.56 L277.57 562.07 L279.96 560.57 L282.35 559.08 L284.74 557.59 L287.13 556.1 L289.52 554.61 L291.91 553.12 L294.3 551.63 L296.69 550.14 L299.08 548.65 L301.47 547.16 L303.86 545.66 L306.25 544.17 L308.64 542.68 L311.03 541.19 L313.42 539.7 L315.81 538.21 L318.2 536.72 L320.59 535.23 L322.98 533.74 L325.37 532.25 L327.76 530.76 L330.15 529.27 L332.54 527.77 L334.93 526.28 L337.32 524.79 L339.71 523.3 L342.1 521.81 L344.49 520.32 L346.88 518.83 L349.27 517.34 L351.66 515.85 L354.05 514.36 L356.44 512.87 L358.83 511.38 L361.22 509.89 L363.61 508.4 L366 506.91 L368.39 505.42 L370.78 503.93 L373.17 502.43 L375.56 500.94 L377.95 499.45 L380.34 497.96 L382.73 496.47 L385.12 494.98 L387.51 493.49 L389.9 492 L392.29 490.51 L394.68 489.02 L397.07 487.53 L399.46 486.04 L401.85 484.55 L404.24 483.06 L406.63 481.57 L409.02 480.08 L411.41 478.59 L413.8 477.1 L416.19 475.61 L418.58 474.12 L420.97 472.64 L423.36 471.15 L425.75 469.66 L428.14 468.17 L430.53 466.68 L432.92 465.19 L435.31 463.7 L437.7 462.21 L440.09 460.72 L442.48 459.23 L444.87 457.75 L447.26 456.26 L449.65 454.77 L452.04 453.28 L454.43 451.79 L456.82 450.3 L459.21 448.82 L461.6 447.33 L463.99 445.84 L466.38 444.35 L468.77 442.87 L471.16 441.38 L473.55 439.89 L475.94 438.41 L478.33 436.92 L480.72 435.43 L483.11 433.95 L485.5 432.46 L487.89 430.98 L490.28 429.49 L492.67 428.01 L495.06 426.52 L497.45 425.04 L499.84 423.55 L502.23 422.07 L504.62 420.59 L507.01 419.1 L509.4 417.62 L511.79 416.14 L514.18 414.66 L516.57 413.18 L518.96 411.7 L521.35 410.22 L523.74 408.74 L526.13 407.26 L528.52 405.78 L530.91 404.3 L533.3 402.83 L535.69 401.35 L538.08 399.88 L540.47 398.4 L542.86 396.93 L545.25 395.46 L547.64 393.99 L550.03 392.52 L552.42 391.05 L554.81 389.58 L557.2 388.11 L559.59 386.65 L561.98 385.19 L564.37 383.73 L566.76 382.27 L569.15 380.81 L571.54 379.36 L573.93 377.91 L576.32 376.46 L578.71 375.01 L581.1 373.57 L583.49 372.13 L585.88 370.69 L588.27 369.26 L590.66 367.84 L593.05 366.42 L595.44 365 L597.83 363.59 L600.22 362.19 L602.61 360.79 L605 359.4 L607.39 358.02 L609.78 356.65 L612.17 355.29 L614.56 353.94 L616.95 352.6 L619.34 351.28 L621.73 349.97 L624.12 348.68 L626.51 347.41 L628.9 346.15 L631.29 344.92 L633.68 343.72 L636.07 342.54 L638.46 341.38 L640.85 340.27 L643.24 339.18 L645.63 338.14 L648.02 337.14 L650.41 336.19 L652.8 335.29 L655.19 334.45 L657.58 333.67 L659.97 332.96 L662.36 332.33 L664.75 331.77 L667.14 331.31 L669.53 330.95 L671.92 330.7 L674.31 330.57 L676.7 330.56 L679.09 330.7 L681.48 330.98 L683.87 331.43 L686.26 332.06 L688.65 332.87 L691.04 333.89 L693.43 335.14 L695.82 336.61 L698.21 338.34 L699.8 339.63 L701.4 341.05 L702.99 342.6 L704.58 344.28 L706.18 346.09 L707.77 348.05 L709.36 350.15 L710.96 352.4 L712.55 354.81 L714.14 357.38 L715.74 360.1 L717.33 363 L718.92 366.07 L720.52 369.31 L722.11 372.72 L723.7 376.32 L724.5 378.19 L725.3 380.1 L726.09 382.07 L726.89 384.07 L727.69 386.13 L728.48 388.23 L729.28 390.38 L730.08 392.58 L730.87 394.83 L731.67 397.12 L732.47 399.46 L733.26 401.86 L734.06 404.3 L734.86 406.79 L735.65 409.33 L736.45 411.92 L737.25 414.56 L738.04 417.25 L738.84 419.99 L739.64 422.78 L740.43 425.62 L741.23 428.51 L742.03 431.45 L742.82 434.44 L743.62 437.48 L744.42 440.58 L745.21 443.72 L746.01 446.91 L746.81 450.15 L747.6 453.45 L748.4 456.79 L749.2 460.18 L749.99 463.63 L750.79 467.12 L751.59 470.66 L752.38 474.26 L753.18 477.9 L753.98 481.59 L754.77 485.33 L755.57 489.13 L756.37 492.97 L757.16 496.86 L757.96 500.8 L758.76 504.78 L759.55 508.82 L760.35 512.91 L761.15 517.04 L761.94 521.22 L762.74 525.45 L763.54 529.73 L764.33 534.05 L765.13 538.43 L765.93 542.85 L766.72 547.31 L767.52 551.83 L768.32 556.39 L769.11 561 L769.91 565.65 L770.71 570.35 L771.5 575.1 L772.3 579.89 L773.1 584.72 L773.89 589.61 L774.69 594.53 L775.49 599.51 L776.28 604.52 L777.08 609.58 L777.88 614.69 L778.67 619.84 L779.47 625.03 L780.27 630.27 L781.06 635.55 L781.86 640.87 L782.66 646.23 L783.45 651.64 L784.09 656" stroke="#00ff00" stroke-width="2.2"/>
<path d="M127 258.25 L129.39 258.25 L131.78 258.25 L134.17 258.25 L136.56 258.25 L138.95 258.25 L141.34 258.25 L143.73 258.25 L146.12 258.25 L148.51 258.25 L150.9 258.25 L153.29 258.25 L155.68 258.25 L158.07 258.25 L160.46 258.25 L162.85 258.25 L165.24 258.25 L167.63 258.25 L170.02 258.25 L172.41 258.25 L174.8 258.25 L177.19 258.25 L179.58 258.25 L181.97 258.25 L184.36 258.25 L186.75 258.25 L189.14 258.25 L191.53 258.25 L193.92 258.25 L196.31 258.25 L198.7 258.25 L201.09 258.25 L203.48 258.25 L205.87 258.25 L208.26 258.25 L210.65 258.25 L213.04 258.25 L215.43 258.25 L217.82 258.25 L220.21 258.25 L222.6 258.25 L224.99 258.25 L227.38 258.25 L229.77 258.25 L232.16 258.25 L234.55 258.25 L236.94 258.25 L239.33 258.25 L241.72 258.25 L244.11 258.25 L246.5 258.25 L248.89 258.25 L251.28 258.25 L253.67 258.25 L256.06 258.25 L258.45 258.25 L260.84 258.25 L263.23 258.25 L265.62 258.26 L268.01 258.26 L270.4 258.26 L272.79 258.26 L275.18 258.26 L277.57 258.26 L279.96 258.26 L282.35 258.26 L284.74 258.26 L287.13 258.26 L289.52 258.26 L291.91 258.26 L294.3 258.26 L296.69 258.26 L299.08 258.26 L301.47 258.26 L303.86 258.26 L306.25 258.26 L308.64 258.26 L311.03 258.26 L313.42 258.26 L315.81 258.26 L318.2 258.26 L320.59 258.26 L322.98 258.26 L325.37 258.26 L327.76 258.27 L330.15 258.27 L332.54 258.27 L334.93 258.27 L337.32 258.27 L339.71 258.27 L342.1 258.27 L344.49 258.27 L346.88 258.27 L349.27 258.27 L351.66 258.27 L354.05 258.27 L356.44 258.27 L358.83 258.28 L361.22 258.28 L363.61 258.28 L366 258.28 L368.39 258.28 L370.78 258.28 L373.17 258.28 L375.56 258.28 L377.95 258.29 L380.34 258.29 L382.73 258.29 L385.12 258.29 L387.51 258.29 L389.9 258.29 L392.29 258.29 L394.68 258.3 L397.07 258.3 L399.46 258.3 L401.85 258.3 L404.24 258.3 L406.63 258.31 L409.02 258.31 L411.41 258.31 L413.8 258.31 L416.19 258.31 L418.58 258.32 L420.97 258.32 L423.36 258.32 L425.75 258.33 L428.14 258.33 L430.53 258.33 L432.92 258.34 L435.31 258.34 L437.7 258.34 L440.09 258.35 L442.48 258.35 L444.87 258.35 L447.26 258.36 L449.65 258.36 L452.04 258.37 L454.43 258.37 L456.82 258.37 L459.21 258.38 L461.6 258.38 L463.99 258.39 L466.38 258.4 L468.77 258.4 L471.16 258.41 L473.55 258.41 L475.94 258.42 L478.33 258.43 L480.72 258.43 L483.11 258.44 L485.5 258.45 L487.89 258.46 L490.28 258.47 L492.67 258.47 L495.06 258.48 L497.45 258.49 L499.84 258.5 L502.23 258.51 L504.62 258.52 L507.01 258.54 L509.4 258.55 L511.79 258.56 L514.18 258.57 L516.57 258.59 L518.96 258.6 L521.35 258.62 L523.74 258.63 L526.13 258.65 L528.52 258.67 L530.91 258.68 L533.3 258.7 L535.69 258.72 L538.08 258.74 L540.47 258.77 L542.86 258.79 L545.25 258.81 L547.64 258.84 L550.03 258.87 L552.42 258.9 L554.81 258.93 L557.2 258.96 L559.59 259 L561.98 259.04 L564.37 259.08 L566.76 259.12 L569.15 259.16 L571.54 259.21 L573.93 259.26 L576.32 259.32 L578.71 259.38 L581.1 259.44 L583.49 259.51 L585.88 259.58 L588.27 259.66 L590.66 259.75 L593.05 259.84 L595.44 259.93 L597.83 260.04 L600.22 260.16 L602.61 260.28 L605 260.41 L607.39 260.56 L609.78 260.72 L612.17 260.89 L614.56 261.07 L616.95 261.27 L619.34 261.49 L621.73 261.73 L624.12 261.99 L626.51 262.28 L628.9 262.59 L631.29 262.92 L633.68 263.29 L636.07 263.7 L638.46 264.14 L640.85 264.62 L643.24 265.14 L645.63 265.71 L648.02 266.34 L650.41 267.03 L652.8 267.78 L655.19 268.59 L657.58 269.49 L659.97 270.46 L662.36 271.53 L664.75 272.69 L667.14 273.96 L669.53 275.34 L671.92 276.85 L674.31 278.49 L676.7 280.27 L678.29 281.54 L679.89 282.88 L681.48 284.3 L683.07 285.79 L684.67 287.37 L686.26 289.03 L687.85 290.77 L689.45 292.61 L691.04 294.55 L692.63 296.58 L694.23 298.71 L695.82 300.94 L697.41 303.29 L699.01 305.74 L700.6 308.31 L702.19 310.99 L703.79 313.8 L705.38 316.72 L706.97 319.78 L708.57 322.95 L710.16 326.26 L711.75 329.7 L713.35 333.27 L714.14 335.11 L714.94 336.98 L715.74 338.89 L716.53 340.83 L717.33 342.8 L718.13 344.81 L718.92 346.85 L719.72 348.93 L720.52 351.04 L721.31 353.19 L722.11 355.37 L722.91 357.59 L723.7 359.84 L724.5 362.13 L725.3 364.46 L726.09 366.82 L726.89 369.21 L727.69 371.64 L728.48 374.1 L729.28 376.6 L730.08 379.14 L730.87 381.71 L731.67 384.31 L732.47 386.95 L733.26 389.63 L734.06 392.34 L734.86 395.08 L735.65 397.86 L736.45 400.67 L737.25 403.52 L738.04 406.4 L738.84 409.32 L739.64 412.27 L740.43 415.25 L741.23 418.26 L742.03 421.31 L742.82 424.4 L743.62 427.51 L744.42 430.66 L745.21 433.84 L746.01 437.05 L746.81 440.29 L747.6 443.57 L748.4 446.88 L749.2 450.22 L749.99 453.59 L750.79 456.99 L751.59 460.42 L752.38 463.88 L753.18 467.37 L753.98 470.89 L754.77 474.44 L755.57 478.02 L756.37 481.63 L757.16 485.27 L757.96 488.94 L758.76 492.63 L759.55 496.35 L760.35 500.11 L761.15 503.88 L761.94 507.69 L762.74 511.52 L763.54 515.38 L764.33 519.26 L765.13 523.18 L765.93 527.11 L766.72 531.08 L767.52 535.06 L768.32 539.08 L769.11 543.12 L769.91 547.18 L770.71 551.27 L771.5 555.38 L772.3 559.51 L773.1 563.67 L773.89 567.85 L774.69 572.06 L775.49 576.28 L776.28 580.53 L777.08 584.81 L777.88 589.1 L778.67 593.42 L779.47 597.75 L780.27 602.11 L781.06 606.49 L781.86 610.89 L782.66 615.32 L783.45 619.76 L784.25 624.22 L785.05 628.7 L785.84 633.2 L786.64 637.72 L787.44 642.27 L788.23 646.82 L789.03 651.4 L789.83 656" stroke="#ff0000" stroke-width="2.0"/>
<path d="M127 656 L128.59 654.76 L130.19 653.51 L131.78 652.27 L133.37 651.03 L134.97 649.79 L136.56 648.54 L138.15 647.3 L139.75 646.06 L141.34 644.81 L142.93 643.57 L144.53 642.33 L146.12 641.08 L147.71 639.84 L149.31 638.6 L150.9 637.36 L152.49 636.11 L154.09 634.87 L155.68 633.63 L157.27 632.38 L158.87 631.14 L160.46 629.9 L162.05 628.65 L163.65 627.41 L165.24 626.17 L166.83 624.93 L168.43 623.68 L170.02 622.44 L171.61 621.2 L173.21 619.95 L174.8 618.71 L176.39 617.47 L177.99 616.23 L179.58 614.98 L181.17 613.74 L182.77 612.5 L184.36 611.25 L185.95 610.01 L187.55 608.77 L189.14 607.52 L190.73 606.28 L192.33 605.04 L193.92 603.8 L195.51 602.55 L197.11 601.31 L198.7 600.07 L200.29 598.82 L201.89 597.58 L203.48 596.34 L205.07 595.09 L206.67 593.85 L208.26 592.61 L209.85 591.37 L211.45 590.12 L213.04 588.88 L214.63 587.64 L216.23 586.39 L217.82 585.15 L219.41 583.91 L221.01 582.67 L222.6 581.42 L224.19 580.18 L225.79 578.94 L227.38 577.69 L228.97 576.45 L230.57 575.21 L232.16 573.96 L233.75 572.72 L235.35 571.48 L236.94 570.24 L238.53 568.99 L240.13 567.75 L241.72 566.51 L243.31 565.26 L244.91 564.02 L246.5 562.78 L248.09 561.54 L249.69 560.29 L251.28 559.05 L252.87 557.81 L254.47 556.56 L256.06 555.32 L257.65 554.08 L259.25 552.83 L260.84 551.59 L262.43 550.35 L264.03 549.11 L265.62 547.86 L267.21 546.62 L268.81 545.38 L270.4 544.13 L271.99 542.89 L273.59 541.65 L275.18 540.41 L276.77 539.16 L278.37 537.92 L279.96 536.68 L281.55 535.43 L283.15 534.19 L284.74 532.95 L286.33 531.71 L287.93 530.46 L289.52 529.22 L291.11 527.98 L292.71 526.73 L294.3 525.49 L295.89 524.25 L297.49 523.01 L299.08 521.76 L300.67 520.52 L302.27 519.28 L303.86 518.03 L305.45 516.79 L307.05 515.55 L308.64 514.31 L310.23 513.06 L311.83 511.82 L313.42 510.58 L315.01 509.33 L316.61 508.09 L318.2 506.85 L319.79 505.61 L321.39 504.36 L322.98 503.12 L324.57 501.88 L326.17 500.63 L327.76 499.39 L329.35 498.15 L330.95 496.91 L332.54 495.66 L334.13 494.42 L335.73 493.18 L337.32 491.94 L338.91 490.69 L340.51 489.45 L342.1 488.21 L343.69 486.96 L345.29 485.72 L346.88 484.48 L348.47 483.24 L350.07 481.99 L351.66 480.75 L353.25 479.51 L354.85 478.27 L356.44 477.02 L358.03 475.78 L359.63 474.54 L361.22 473.3 L362.81 472.05 L364.41 470.81 L366 469.57 L367.59 468.33 L369.19 467.08 L370.78 465.84 L372.37 464.6 L373.97 463.36 L375.56 462.11 L377.15 460.87 L378.75 459.63 L380.34 458.39 L381.93 457.14 L383.53 455.9 L385.12 454.66 L386.71 453.42 L388.31 452.17 L389.9 450.93 L391.49 449.69 L393.09 448.45 L394.68 447.21 L396.27 445.96 L397.87 444.72 L399.46 443.48 L401.05 442.24 L402.65 440.99 L404.24 439.75 L405.83 438.51 L407.43 437.27 L409.02 436.03 L410.61 434.78 L412.21 433.54 L413.8 432.3 L415.39 431.06 L416.99 429.82 L418.58 428.58 L420.17 427.33 L421.77 426.09 L423.36 424.85 L424.95 423.61 L426.55 422.37 L428.14 421.13 L429.73 419.88 L431.33 418.64 L432.92 417.4 L434.51 416.16 L436.11 414.92 L437.7 413.68 L439.29 412.44 L440.89 411.19 L442.48 409.95 L444.07 408.71 L445.67 407.47 L447.26 406.23 L448.85 404.99 L450.45 403.75 L452.04 402.51 L453.63 401.27 L455.23 400.03 L456.82 398.79 L458.41 397.55 L460.01 396.31 L461.6 395.07 L463.19 393.82 L464.79 392.58 L466.38 391.34 L467.97 390.1 L469.57 388.86 L471.16 387.63 L472.75 386.39 L474.35 385.15 L475.94 383.91 L477.53 382.67 L479.13 381.43 L480.72 380.19 L482.31 378.95 L483.91 377.71 L485.5 376.47 L487.09 375.23 L488.69 374 L490.28 372.76 L491.87 371.52 L493.47 370.28 L495.06 369.04 L496.65 367.81 L498.25 366.57 L499.84 365.33 L501.43 364.09 L503.03 362.86 L504.62 361.62 L506.21 360.38 L507.81 359.15 L509.4 357.91 L510.99 356.67 L512.59 355.44 L514.18 354.2 L515.77 352.97 L517.37 351.73 L518.96 350.5 L520.55 349.26 L522.15 348.03 L523.74 346.8 L525.33 345.56 L526.93 344.33 L528.52 343.1 L530.11 341.87 L531.71 340.63 L533.3 339.4 L534.89 338.17 L536.49 336.94 L538.08 335.71 L539.67 334.48 L541.27 333.25 L542.86 332.03 L544.45 330.8 L546.05 329.57 L547.64 328.34 L549.23 327.12 L550.83 325.89 L552.42 324.67 L554.01 323.44 L555.61 322.22 L557.2 321 L558.79 319.78 L560.39 318.56 L561.98 317.34 L563.57 316.12 L565.17 314.91 L566.76 313.69 L568.35 312.48 L569.95 311.26 L571.54 310.05 L573.13 308.84 L575.52 307.03 L577.91 305.22 L580.3 303.42 L582.69 301.62 L585.08 299.82 L587.47 298.03 L589.86 296.25 L592.25 294.47 L594.64 292.7 L597.03 290.94 L599.42 289.19 L601.81 287.45 L604.2 285.71 L606.59 283.99 L608.98 282.28 L611.37 280.59 L613.76 278.91 L616.15 277.24 L618.54 275.6 L620.93 273.97 L623.32 272.37 L625.71 270.8 L628.1 269.24 L630.49 267.72 L632.88 266.24 L635.27 264.78 L637.66 263.37 L640.05 262 L642.44 260.68 L644.83 259.42 L647.22 258.21 L649.61 257.06 L652 255.99 L654.39 254.99 L656.78 254.07 L659.17 253.25 L661.56 252.52 L663.95 251.91 L666.34 251.42 L668.73 251.05 L671.12 250.82 L673.51 250.75 L675.9 250.84 L678.29 251.11 L680.68 251.58 L683.07 252.24 L685.46 253.13 L687.85 254.25 L690.24 255.63 L692.63 257.26 L694.23 258.51 L695.82 259.89 L697.41 261.4 L699.01 263.05 L700.6 264.85 L702.19 266.79 L703.79 268.88 L705.38 271.13 L706.97 273.54 L708.57 276.12 L710.16 278.86 L711.75 281.78 L713.35 284.87 L714.94 288.13 L716.53 291.58 L718.13 295.21 L718.92 297.1 L719.72 299.03 L720.52 301.01 L721.31 303.04 L722.11 305.11 L722.91 307.23 L723.7 309.41 L724.5 311.62 L725.3 313.89 L726.09 316.21 L726.89 318.57 L727.69 320.99 L728.48 323.45 L729.28 325.96 L730.08 328.52 L730.87 331.14 L731.67 333.8 L732.47 336.51 L733.26 339.27 L734.06 342.08 L734.86 344.94 L735.65 347.85 L736.45 350.8 L737.25 353.81 L738.04 356.87 L738.84 359.98 L739.64 363.14 L740.43 366.35 L741.23 369.6 L742.03 372.91 L742.82 376.26 L743.62 379.67 L744.42 383.12 L745.21 386.63 L746.01 390.18 L746.81 393.78 L747.6 397.43 L748.4 401.13 L749.2 404.88 L749.99 408.68 L750.79 412.52 L751.59 416.41 L752.38 420.35 L753.18 424.34 L753.98 428.38 L754.77 432.46 L755.57 436.59 L756.37 440.76 L757.16 444.99 L757.96 449.26 L758.76 453.58 L759.55 457.94 L760.35 462.35 L761.15 466.8 L761.94 471.31 L762.74 475.85 L763.54 480.44 L764.33 485.08 L765.13 489.76 L765.93 494.49 L766.72 499.26 L767.52 504.07 L768.32 508.93 L769.11 513.84 L769.91 518.78 L770.71 523.77 L771.5 528.81 L772.3 533.88 L773.1 539 L773.89 544.16 L774.69 549.37 L775.49 554.61 L776.28 559.9 L777.08 565.23 L777.88 570.6 L778.67 576.01 L779.47 581.46 L780.27 586.96 L781.06 592.49 L781.86 598.07 L782.66 603.68 L783.45 609.34 L784.25 615.03 L785.05 620.77 L785.84 626.54 L786.64 632.36 L787.44 638.21 L788.23 644.1 L789.03 650.03 L789.83 656" stroke="#ff0000" stroke-width="2.2"/></g>
<path d="M127 224.6 V656 M844 224.6 V656 M118 224.6 H844 M127 656 H844 M127 656 V665 M206.67 656 V665 M286.33 656 V665 M366 656 V665 M445.67 656 V665 M525.33 656 V665 M605 656 V665 M684.67 656 V665 M764.33 656 V665 M844 656 V665 M127 656 H118 M127 612.86 H118 M127 569.72 H118 M127 526.58 H118 M127 483.44 H118 M127 440.3 H118 M127 397.16 H118 M127 354.02 H118 M127 310.88 H118 M127 267.74 H118 M127 224.6 H118 M844 656 H853 M844 602.78 H853 M844 548.85 H853 M844 494.93 H853 M844 441 H853 M844 387.07 H853 M844 333.15 H853 M844 279.22 H853 M844 224.6 H853" stroke="#000" stroke-width="1.9" fill="none"/>
<g><text transform="translate(112.8 661.6) scale(1.0 1)" text-anchor="end" font-size="21.5">0</text>
<text transform="translate(112.8 618.46) scale(1.0 1)" text-anchor="end" font-size="21.5">2</text>
<text transform="translate(112.8 575.32) scale(1.0 1)" text-anchor="end" font-size="21.5">4</text>
<text transform="translate(112.8 532.18) scale(1.0 1)" text-anchor="end" font-size="21.5">6</text>
<text transform="translate(112.8 489.04) scale(1.0 1)" text-anchor="end" font-size="21.5">8</text>
<text transform="translate(112.8 445.9) scale(1.0 1)" text-anchor="end" font-size="21.5">10</text>
<text transform="translate(112.8 402.76) scale(1.0 1)" text-anchor="end" font-size="21.5">12</text>
<text transform="translate(112.8 359.62) scale(1.0 1)" text-anchor="end" font-size="21.5">14</text>
<text transform="translate(112.8 316.48) scale(1.0 1)" text-anchor="end" font-size="21.5">16</text>
<text transform="translate(112.8 273.34) scale(1.0 1)" text-anchor="end" font-size="21.5">18</text>
<text transform="translate(112.8 230.2) scale(1.0 1)" text-anchor="end" font-size="21.5">20</text>
<text transform="translate(858.2 661.6) scale(1.0 1)" text-anchor="start" font-size="21.5">0</text>
<text transform="translate(858.2 608.18) scale(1.0 1)" text-anchor="start" font-size="21.5">80</text>
<text transform="translate(858.2 554.25) scale(1.0 1)" text-anchor="start" font-size="21.5">160</text>
<text transform="translate(858.2 500.33) scale(1.0 1)" text-anchor="start" font-size="21.5">240</text>
<text transform="translate(858.2 446.4) scale(1.0 1)" text-anchor="start" font-size="21.5">320</text>
<text transform="translate(858.2 392.48) scale(1.0 1)" text-anchor="start" font-size="21.5">400</text>
<text transform="translate(858.2 338.55) scale(1.0 1)" text-anchor="start" font-size="21.5">480</text>
<text transform="translate(858.2 284.62) scale(1.0 1)" text-anchor="start" font-size="21.5">560</text>
<text transform="translate(858.2 230.2) scale(1.0 1)" text-anchor="start" font-size="21.5">640</text>
<text transform="translate(127 687.2) scale(1.0 1)" text-anchor="middle" font-size="21.5">0</text>
<text transform="translate(206.67 687.2) scale(1.0 1)" text-anchor="middle" font-size="21.5">5</text>
<text transform="translate(286.33 687.2) scale(1.0 1)" text-anchor="middle" font-size="21.5">10</text>
<text transform="translate(366 687.2) scale(1.0 1)" text-anchor="middle" font-size="21.5">15</text>
<text transform="translate(445.67 687.2) scale(1.0 1)" text-anchor="middle" font-size="21.5">20</text>
<text transform="translate(525.33 687.2) scale(1.0 1)" text-anchor="middle" font-size="21.5">25</text>
<text transform="translate(605 687.2) scale(1.0 1)" text-anchor="middle" font-size="21.5">30</text>
<text transform="translate(684.67 687.2) scale(1.0 1)" text-anchor="middle" font-size="21.5">35</text>
<text transform="translate(764.33 687.2) scale(1.0 1)" text-anchor="middle" font-size="21.5">40</text>
<text transform="translate(844 687.2) scale(1.0 1)" text-anchor="middle" font-size="21.5">45</text></g>
<g><text transform="translate(486 721.1)" text-anchor="middle" font-size="22.2" letter-spacing="0.8">Voltage(V)</text>
<text transform="translate(82.4 438) rotate(-90)" text-anchor="middle" font-size="23.8" letter-spacing="0.25">Current(A)</text>
<text transform="translate(925.2 439.6) rotate(-90)" text-anchor="middle" font-size="23.8" letter-spacing="0.25">Power(W)</text></g>
<g><rect x="126.5" y="737.5" width="717" height="52.8" fill="none" stroke="#000" stroke-width="1.3"/>
<line x1="162.6" y1="765" x2="187.6" y2="765" stroke="#ff0000" stroke-width="2.8"/>
<text transform="translate(193.9 771.2) scale(1.0 1)" font-size="18.5">1000W/m<tspan font-size="11.6" dx="0.8" dy="-10.7">2</tspan></text>
<line x1="300.3" y1="765" x2="325.3" y2="765" stroke="#00ff00" stroke-width="2.8"/>
<text transform="translate(331.1 771.2) scale(1.0 1)" font-size="18.5">800W/m<tspan font-size="11.6" dx="0.8" dy="-10.7">2</tspan></text>
<line x1="428.8" y1="765" x2="453.8" y2="765" stroke="#0000ff" stroke-width="2.8"/>
<text transform="translate(457.5 771.2) scale(1.0 1)" font-size="18.5">600W/m<tspan font-size="11.6" dx="0.8" dy="-10.7">2</tspan></text>
<line x1="555.8" y1="765" x2="580.8" y2="765" stroke="#00ffff" stroke-width="2.8"/>
<text transform="translate(586.4 771.2) scale(1.0 1)" font-size="18.5">400W/m<tspan font-size="11.6" dx="0.8" dy="-10.7">2</tspan></text>
<line x1="685.4" y1="765" x2="710.4" y2="765" stroke="#ff00ff" stroke-width="2.8"/>
<text transform="translate(716 771.2) scale(1.0 1)" font-size="18.5">200W/m<tspan font-size="11.6" dx="0.8" dy="-10.7">2</tspan></text></g>
</svg>
</body></html>
